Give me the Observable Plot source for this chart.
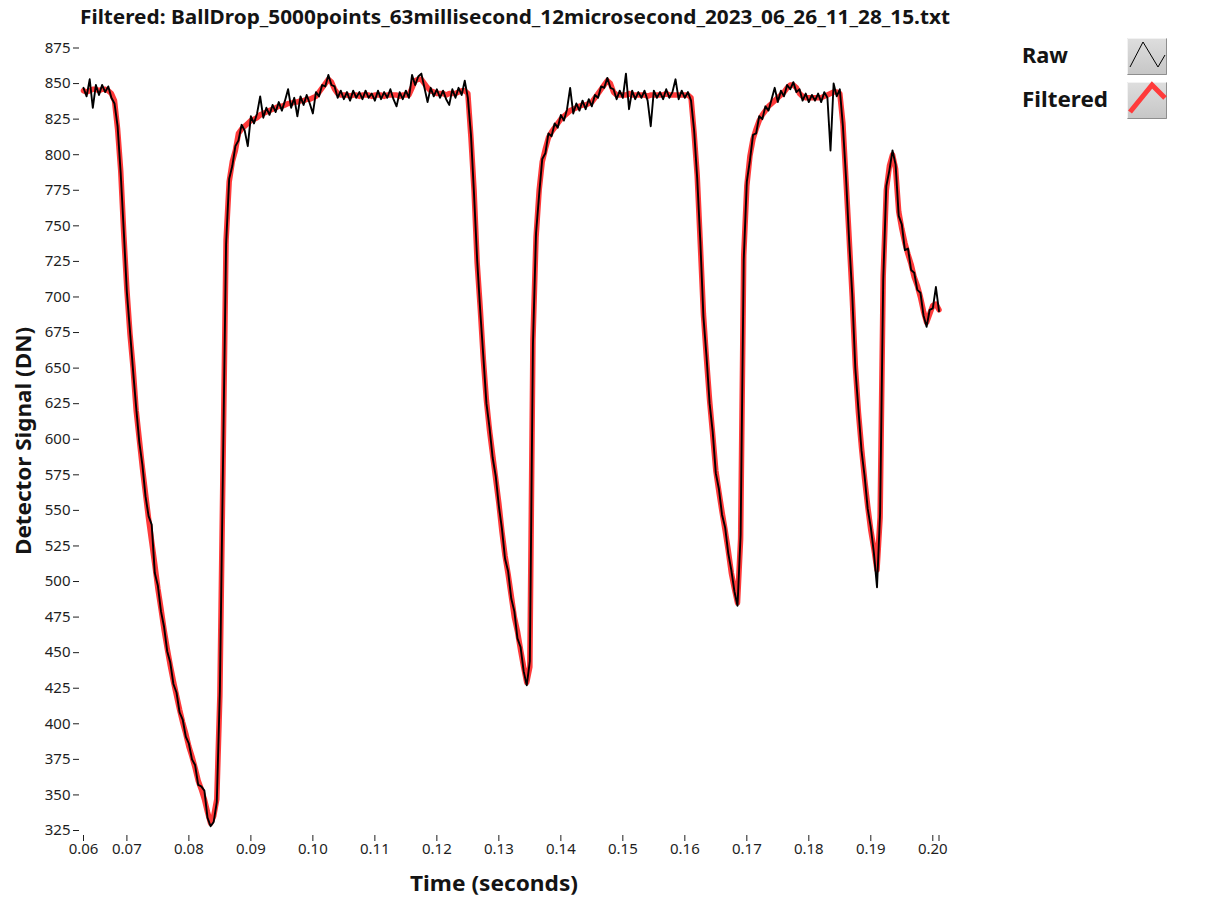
<!DOCTYPE html>
<html>
<head>
<meta charset="utf-8">
<script src="https://cdn.jsdelivr.net/npm/d3@7"></script>
<script src="https://cdn.jsdelivr.net/npm/@observablehq/plot@0.6"></script>
<style>
  html, body { margin: 0; padding: 0; background: #fff; }
  #wrap { position: relative; width: 1209px; height: 898px; overflow: hidden; }
  #wrap svg { position: absolute; left: 0; top: 0; }
</style>
</head>
<body>
<div id="wrap"></div>
<script>
// Acquisition clock: first sample time and sample spacing (seconds)
const sampleStart = 0.063;
const sampleStep = 0.0005;

// Detector signal after filtering (DN), one value per sample
const filtered = [
  845, 844, 845, 846, 846, 845, 846, 846, 845, 843,
  838, 818, 789, 744, 705, 674, 650, 620, 600, 580,
  562, 544, 528, 512, 495, 481, 466, 453, 441, 430,
  420, 410, 401, 393, 384, 377, 369, 360, 354, 347,
  338, 330, 335, 347, 420, 580, 740, 781, 795, 803,
  815, 818, 820, 822, 824, 825, 826, 828, 829, 830,
  831, 832, 833, 834, 834, 835, 836, 836, 837, 837,
  838, 838, 839, 839, 840, 841, 844, 847, 850, 853,
  851, 846, 843, 842, 842, 842, 841, 842, 842, 841,
  842, 842, 842, 841, 842, 842, 842, 841, 842, 842,
  842, 842, 841, 842, 842, 842, 847, 852, 853, 853,
  850, 847, 845, 844, 843, 843, 843, 842, 843, 843,
  843, 844, 845, 845, 843, 812, 775, 724, 692, 656,
  627, 606, 589, 572, 555, 535, 518, 505, 490, 475,
  465, 452, 440, 429, 440, 670, 742, 775, 795, 804,
  812, 816, 819, 822, 825, 827, 829, 831, 832, 833,
  834, 835, 835, 836, 837, 840, 843, 846, 849, 852,
  850, 844, 842, 842, 842, 842, 843, 842, 842, 842,
  842, 842, 841, 842, 842, 842, 842, 842, 843, 842,
  842, 842, 842, 842, 842, 842, 840, 815, 785, 737,
  688, 656, 627, 603, 578, 563, 549, 536, 522, 506,
  495, 485, 530, 729, 778, 799, 811, 818, 824, 828,
  831, 834, 836, 838, 840, 842, 844, 847, 849, 849,
  847, 843, 841, 840, 840, 840, 840, 840, 840, 841,
  842, 843, 844, 844, 843, 822, 782, 742, 700, 652,
  619, 594, 572, 553, 536, 523, 508, 545, 715, 775,
  792, 800, 790, 760, 748, 738, 730, 723, 714, 708,
  700, 690, 682, 688, 694, 695, 691
];

// Unfiltered detector signal (DN), same samples
const raw = [
  847, 841, 853, 833, 849, 842, 849, 844, 848, 840,
  836, 820, 787, 746, 703, 676, 648, 622, 598, 582,
  560, 546, 540, 506, 497, 479, 468, 451, 443, 428,
  422, 408, 403, 391, 386, 375, 371, 357, 356, 353,
  334, 328, 331, 345, 423, 582, 737, 783, 792, 806,
  810, 821, 817, 806, 827, 822, 829, 841, 826, 833,
  828, 835, 830, 837, 831, 838, 846, 833, 840, 827,
  841, 835, 842, 836, 829, 844, 841, 849, 848, 856,
  849, 848, 840, 845, 839, 844, 838, 845, 840, 844,
  839, 845, 840, 843, 838, 845, 839, 844, 840, 846,
  839, 834, 844, 839, 845, 840, 856, 849, 855, 857,
  847, 837, 847, 841, 846, 840, 845, 839, 835, 846,
  840, 847, 842, 852, 840, 814, 772, 726, 690, 658,
  625, 608, 587, 574, 553, 537, 516, 507, 488, 479,
  460, 454, 437, 427, 444, 667, 745, 772, 797, 801,
  815, 813, 822, 819, 828, 824, 832, 847, 829, 836,
  831, 838, 832, 839, 834, 842, 840, 848, 847, 854,
  847, 846, 839, 845, 840, 857, 832, 845, 839, 844,
  840, 845, 838, 820, 845, 840, 844, 839, 846, 840,
  844, 853, 839, 845, 840, 844, 838, 817, 783, 739,
  686, 658, 625, 605, 576, 565, 547, 538, 520, 508,
  493, 483, 533, 726, 781, 796, 814, 815, 827, 825,
  834, 831, 839, 847, 837, 845, 841, 849, 846, 851,
  844, 846, 838, 843, 837, 842, 838, 843, 837, 844,
  840, 803, 850, 841, 846, 820, 784, 740, 702, 650,
  621, 592, 574, 551, 538, 520, 496, 548, 712, 778,
  789, 803, 793, 757, 751, 733, 734, 719, 717, 705,
  703, 687, 679, 691, 692, 707, 690
];

// Axis ticks: the time axis marks both of its ends
const xTicks = [0.063, 0.07, 0.08, 0.09, 0.10, 0.11, 0.12, 0.13, 0.14, 0.15, 0.16, 0.17, 0.18, 0.19, 0.20, 0.201];
const yTicks = [325, 350, 375, 400, 425, 450, 475, 500, 525, 550, 575, 600, 625, 650, 675, 700, 725, 750, 775, 800, 825, 850, 875];

const titleText = "Filtered: BallDrop_5000points_63millisecond_12microsecond_2023_06_26_11_28_15.txt";
const xLabel = "Time (seconds)";
const yLabel = "Detector Signal (DN)";
const seriesNames = ["Raw", "Filtered"];
const filteredColor = "#ff3b3b";
const rawColor = "#000000";

const samples = raw.map((r, i) => ({
  t: sampleStart + i * sampleStep,
  raw: r,
  filtered: filtered[i]
}));

const chart = Plot.plot({
  width: 1209,
  height: 898,
  marginTop: 47.5,
  marginBottom: 68,
  marginLeft: 83,
  marginRight: 270.5,
  style: { fontFamily: "Noto Sans", fontSize: "15px", color: "#1e1e1e", background: "transparent" },
  x: { domain: [0.063, 0.201] },
  y: { domain: [325, 875] },
  marks: [
    Plot.axisY(yTicks, { tickSize: 6, tickPadding: 3, dx: -4, label: null, tickFormat: d => String(d) }),
    Plot.axisX(xTicks, {
      tickSize: 6, tickPadding: 2, dy: 5, label: null,
      tickFormat: d => (d === 0.201 ? "" : d.toFixed(2))
    }),
    Plot.line(samples, { x: "t", y: "filtered", stroke: filteredColor, strokeWidth: 5.5 }),
    Plot.line(samples, { x: "t", y: "raw", stroke: rawColor, strokeWidth: 1.9 })
  ]
});
document.getElementById("wrap").appendChild(chart);

// Title, axis titles and legend drawn on top of the plot
const deco = d3.select("#wrap").append("svg")
  .attr("width", 1209).attr("height", 898)
  .style("pointer-events", "none")
  .attr("font-family", "Noto Sans")
  .attr("font-weight", 700)
  .attr("fill", "#141414");

deco.append("text")
  .attr("x", 515).attr("y", 24)
  .attr("text-anchor", "middle")
  .attr("font-size", 19)
  .attr("textLength", 870).attr("lengthAdjust", "spacingAndGlyphs")
  .text(titleText);

deco.append("text")
  .attr("x", 494).attr("y", 891)
  .attr("text-anchor", "middle")
  .attr("font-size", 21)
  .attr("textLength", 168).attr("lengthAdjust", "spacingAndGlyphs")
  .text(xLabel);

deco.append("text")
  .attr("transform", "translate(31,441) rotate(-90)")
  .attr("text-anchor", "middle")
  .attr("font-size", 21)
  .attr("textLength", 228).attr("lengthAdjust", "spacingAndGlyphs")
  .text(yLabel);

const defs = deco.append("defs");
const grad = defs.append("linearGradient").attr("id", "btn").attr("x1", 0).attr("y1", 0).attr("x2", 0).attr("y2", 1);
grad.append("stop").attr("offset", "0%").attr("stop-color", "#dedede");
grad.append("stop").attr("offset", "100%").attr("stop-color", "#c6c6c6");

const legendRows = [
  { name: seriesNames[0], textWidth: 46, baseline: 63, boxTop: 38 },
  { name: seriesNames[1], textWidth: 86, baseline: 107, boxTop: 82 }
];

legendRows.forEach((row, k) => {
  deco.append("text")
    .attr("x", 1022).attr("y", row.baseline)
    .attr("font-size", 21)
    .attr("textLength", row.textWidth).attr("lengthAdjust", "spacingAndGlyphs")
    .text(row.name);
  const g = deco.append("g").attr("transform", `translate(1127,${row.boxTop})`);
  g.append("rect").attr("width", 40).attr("height", 37).attr("fill", "url(#btn)");
  g.append("path").attr("d", "M0.5,36.5 V0.5 H39.5").attr("fill", "none").attr("stroke", "#f2f2f2");
  g.append("path").attr("d", "M0.5,36.5 H39.5 V0.5").attr("fill", "none").attr("stroke", "#8e8e8e");
  if (k === 0) {
    g.append("polyline").attr("points", "3,29 16,4 31,29 38,17")
      .attr("fill", "none").attr("stroke", rawColor).attr("stroke-width", 1);
  } else {
    g.append("polyline").attr("points", "3,30 25,3 38,16")
      .attr("fill", "none").attr("stroke", filteredColor).attr("stroke-width", 5)
      .attr("stroke-linejoin", "miter");
  }
});
</script>
</body>
</html>
